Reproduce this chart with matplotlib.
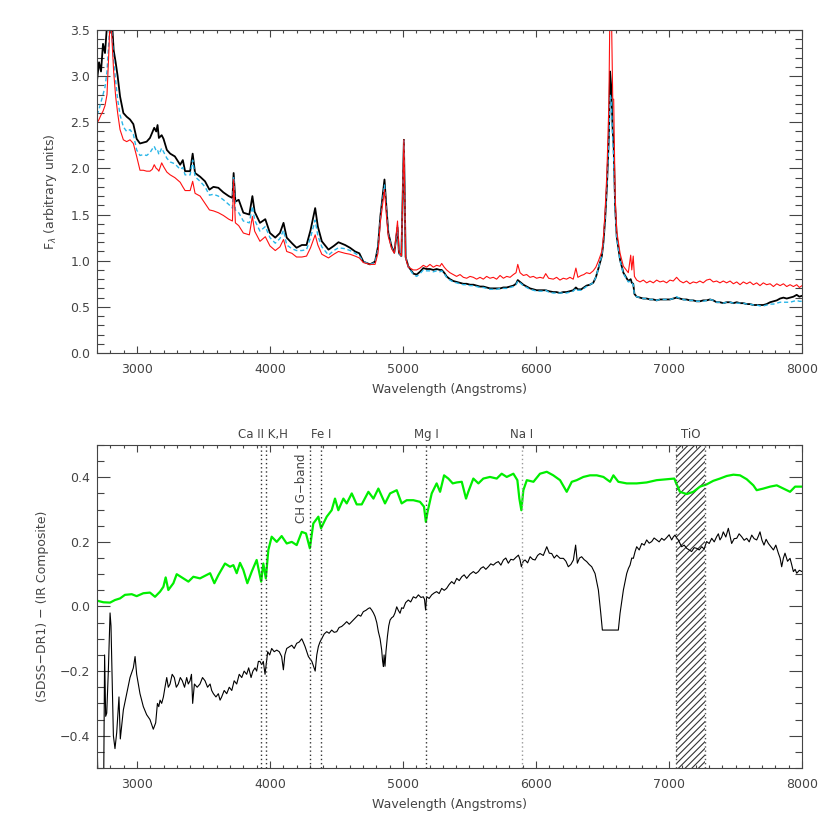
import matplotlib
matplotlib.use('Agg')
import matplotlib.pyplot as plt
from matplotlib.ticker import MultipleLocator, FixedLocator, FuncFormatter
import matplotlib.transforms as mtransforms

# ---- top panel: composite spectra (wavelength in Angstroms, flux arbitrary) ----
wl_top = [2700, 2715, 2730, 2745, 2760, 2775, 2790, 2800, 2812, 2825,
          2840, 2855, 2873, 2898, 2923, 2948, 2973, 2998, 3023, 3048,
          3073, 3098, 3115, 3130, 3145, 3155, 3165, 3186, 3200, 3225,
          3250, 3285, 3325, 3345, 3362, 3400, 3419, 3437, 3475, 3512,
          3545, 3575, 3612, 3650, 3690, 3718, 3727, 3740, 3765, 3800,
          3845, 3868, 3885, 3925, 3965, 4000, 4040, 4075, 4102, 4126,
          4165, 4200, 4240, 4275, 4305, 4340, 4360, 4390, 4440, 4480,
          4515, 4565, 4602, 4640, 4672, 4702, 4752, 4790, 4812, 4830,
          4861, 4875, 4890, 4915, 4935, 4959, 4970, 4988, 5007, 5020,
          5040, 5078, 5103, 5128, 5153, 5178, 5203, 5228, 5253, 5278,
          5291, 5310, 5328, 5353, 5378, 5403, 5429, 5454, 5479, 5504,
          5529, 5554, 5579, 5604, 5629, 5654, 5679, 5704, 5730, 5755,
          5780, 5805, 5830, 5850, 5863, 5880, 5905, 5930, 5955, 5980,
          6005, 6030, 6055, 6073, 6095, 6130, 6155, 6180, 6205, 6230,
          6255, 6280, 6300, 6315, 6340, 6360, 6380, 6405, 6430, 6450,
          6470, 6495, 6507, 6520, 6533, 6548, 6557, 6565, 6577, 6584,
          6595, 6607, 6632, 6657, 6694, 6712, 6720, 6731, 6740, 6757,
          6782, 6807, 6832, 6857, 6882, 6907, 6932, 6957, 6982, 7007,
          7032, 7057, 7082, 7107, 7132, 7157, 7182, 7207, 7232, 7257,
          7282, 7308, 7333, 7358, 7383, 7408, 7433, 7459, 7484, 7509,
          7534, 7559, 7584, 7609, 7634, 7659, 7684, 7709, 7734, 7760,
          7785, 7810, 7835, 7860, 7885, 7910, 7935, 7960, 7980, 8000]

flux_black = [2.95, 3.15, 3.05, 3.35, 3.25, 3.55, 3.70, 3.80, 3.60, 3.28,
              3.15, 3.00, 2.78, 2.60, 2.56, 2.53, 2.48, 2.32, 2.27, 2.28,
              2.29, 2.33, 2.39, 2.44, 2.40, 2.47, 2.33, 2.36, 2.32, 2.20,
              2.16, 2.13, 2.04, 2.09, 1.97, 1.97, 2.16, 1.95, 1.91, 1.86,
              1.77, 1.80, 1.79, 1.74, 1.70, 1.68, 1.95, 1.64, 1.66, 1.52,
              1.50, 1.70, 1.53, 1.41, 1.45, 1.30, 1.25, 1.30, 1.41, 1.25,
              1.19, 1.14, 1.17, 1.17, 1.33, 1.57, 1.37, 1.21, 1.12, 1.16,
              1.20, 1.17, 1.14, 1.10, 1.08, 0.99, 0.96, 0.99, 1.15, 1.48,
              1.88, 1.59, 1.30, 1.15, 1.09, 1.36, 1.08, 1.05, 2.31, 1.04,
              0.94, 0.86, 0.85, 0.88, 0.92, 0.91, 0.91, 0.90, 0.91, 0.90,
              0.90, 0.87, 0.83, 0.80, 0.78, 0.77, 0.76, 0.75, 0.75, 0.74,
              0.74, 0.73, 0.72, 0.72, 0.71, 0.70, 0.70, 0.70, 0.70, 0.71,
              0.71, 0.72, 0.73, 0.75, 0.79, 0.77, 0.74, 0.72, 0.70, 0.69,
              0.68, 0.68, 0.68, 0.68, 0.67, 0.66, 0.66, 0.65, 0.66, 0.66,
              0.67, 0.68, 0.71, 0.69, 0.69, 0.71, 0.73, 0.74, 0.76, 0.82,
              0.92, 1.05, 1.20, 1.45, 1.80, 2.35, 3.05, 2.90, 2.40, 2.25,
              1.59, 1.26, 1.01, 0.87, 0.78, 0.80, 0.76, 0.75, 0.64, 0.61,
              0.60, 0.59, 0.59, 0.58, 0.58, 0.57, 0.58, 0.58, 0.58, 0.58,
              0.59, 0.60, 0.59, 0.58, 0.58, 0.57, 0.57, 0.56, 0.56, 0.57,
              0.57, 0.58, 0.57, 0.55, 0.55, 0.54, 0.55, 0.55, 0.54, 0.55,
              0.54, 0.54, 0.53, 0.53, 0.52, 0.52, 0.52, 0.52, 0.53, 0.55,
              0.56, 0.57, 0.59, 0.60, 0.59, 0.60, 0.61, 0.63, 0.61, 0.62]

flux_cyan = [2.58, 2.64, 2.72, 2.80, 2.88, 3.05, 3.40, 3.70, 3.45, 3.18,
             2.95, 2.75, 2.58, 2.45, 2.40, 2.42, 2.37, 2.20, 2.14, 2.15,
             2.14, 2.17, 2.21, 2.24, 2.19, 2.20, 2.15, 2.22, 2.18, 2.11,
             2.07, 2.05, 1.99, 2.01, 1.93, 1.93, 2.09, 1.91, 1.86, 1.80,
             1.71, 1.72, 1.70, 1.66, 1.61, 1.57, 1.91, 1.55, 1.52, 1.43,
             1.41, 1.59, 1.44, 1.32, 1.37, 1.25, 1.19, 1.24, 1.33, 1.17,
             1.13, 1.11, 1.11, 1.12, 1.25, 1.44, 1.27, 1.15, 1.06, 1.11,
             1.14, 1.13, 1.11, 1.08, 1.05, 0.99, 0.96, 0.98, 1.12, 1.45,
             1.82, 1.55, 1.28, 1.14, 1.08, 1.38, 1.08, 1.05, 2.30, 1.04,
             0.93, 0.85, 0.83, 0.86, 0.90, 0.89, 0.89, 0.88, 0.89, 0.88,
             0.89, 0.86, 0.82, 0.79, 0.77, 0.76, 0.75, 0.74, 0.74, 0.73,
             0.73, 0.72, 0.71, 0.71, 0.70, 0.69, 0.69, 0.69, 0.70, 0.70,
             0.70, 0.71, 0.72, 0.74, 0.78, 0.76, 0.73, 0.71, 0.69, 0.68,
             0.67, 0.67, 0.67, 0.68, 0.66, 0.65, 0.65, 0.65, 0.65, 0.65,
             0.66, 0.67, 0.70, 0.68, 0.68, 0.70, 0.72, 0.74, 0.76, 0.82,
             0.92, 1.06, 1.22, 1.47, 1.82, 2.30, 2.80, 2.75, 2.30, 2.10,
             1.55, 1.24, 1.00, 0.86, 0.77, 0.78, 0.76, 0.74, 0.63, 0.61,
             0.60, 0.59, 0.59, 0.58, 0.58, 0.57, 0.58, 0.58, 0.58, 0.58,
             0.59, 0.61, 0.59, 0.58, 0.57, 0.57, 0.57, 0.56, 0.56, 0.56,
             0.57, 0.58, 0.57, 0.55, 0.55, 0.54, 0.55, 0.55, 0.54, 0.54,
             0.54, 0.54, 0.53, 0.53, 0.52, 0.52, 0.51, 0.51, 0.52, 0.53,
             0.53, 0.54, 0.55, 0.55, 0.55, 0.55, 0.56, 0.57, 0.56, 0.56]

flux_red = [2.49, 2.53, 2.58, 2.62, 2.68, 2.80, 3.30, 3.75, 3.40, 3.05,
            2.78, 2.60, 2.42, 2.31, 2.29, 2.31, 2.27, 2.13, 1.98, 1.98,
            1.97, 1.97, 1.99, 2.04, 2.00, 1.99, 1.97, 2.06, 2.02, 1.96,
            1.93, 1.90, 1.85, 1.80, 1.76, 1.76, 1.86, 1.73, 1.70, 1.62,
            1.55, 1.54, 1.52, 1.49, 1.45, 1.43, 1.88, 1.41, 1.38, 1.30,
            1.28, 1.48, 1.32, 1.21, 1.26, 1.16, 1.11, 1.15, 1.23, 1.10,
            1.08, 1.04, 1.04, 1.05, 1.14, 1.28, 1.17, 1.07, 1.03, 1.07,
            1.10, 1.08, 1.07, 1.05, 1.03, 0.98, 0.96, 0.96, 1.08, 1.42,
            1.77, 1.50, 1.26, 1.13, 1.08, 1.43, 1.09, 1.05, 2.31, 1.03,
            0.93, 0.90, 0.90, 0.92, 0.95, 0.93, 0.96, 0.93, 0.95, 0.94,
            0.97, 0.93, 0.90, 0.87, 0.85, 0.83, 0.85, 0.82, 0.81, 0.83,
            0.82, 0.80, 0.82, 0.80, 0.83, 0.81, 0.82, 0.80, 0.84, 0.81,
            0.83, 0.82, 0.85, 0.87, 0.96, 0.87, 0.84, 0.85, 0.82, 0.83,
            0.81, 0.82, 0.81, 0.86, 0.81, 0.80, 0.82, 0.79, 0.81, 0.80,
            0.82, 0.80, 0.92, 0.82, 0.84, 0.85, 0.87, 0.86, 0.89, 0.93,
            1.00, 1.10, 1.25, 1.55, 1.95, 2.70, 3.90, 3.90, 2.75, 2.75,
            1.70, 1.32, 1.08, 0.94, 0.87, 1.06, 0.90, 1.05, 0.83, 0.79,
            0.77, 0.79, 0.76, 0.78, 0.76, 0.79, 0.77, 0.78, 0.76, 0.79,
            0.78, 0.82, 0.78, 0.76, 0.78, 0.75, 0.77, 0.76, 0.78, 0.76,
            0.79, 0.80, 0.77, 0.78, 0.76, 0.78, 0.76, 0.78, 0.75, 0.77,
            0.74, 0.77, 0.75, 0.77, 0.74, 0.76, 0.73, 0.76, 0.74, 0.75,
            0.72, 0.75, 0.73, 0.75, 0.72, 0.74, 0.72, 0.74, 0.71, 0.73]

# ---- bottom panel: difference spectra ----
wl_green = [2700, 2748, 2798, 2835, 2873, 2910, 2961, 2998, 3048, 3098, 3136, 3174, 3199, 3216,
            3236, 3274, 3299, 3349, 3387, 3424, 3474, 3550, 3582, 3612, 3662, 3700, 3725, 3750,
            3775, 3800, 3830, 3863, 3900, 3934, 3950, 3969, 3988, 4013, 4051, 4088, 4126, 4164,
            4201, 4239, 4271, 4300, 4326, 4364, 4384, 4427, 4464, 4489, 4514, 4552, 4577, 4615,
            4652, 4690, 4740, 4778, 4815, 4865, 4903, 4953, 4990, 5028, 5078, 5128, 5158, 5172,
            5185, 5216, 5253, 5279, 5309, 5341, 5374, 5404, 5442, 5474, 5491, 5529, 5567, 5604,
            5654, 5705, 5742, 5780, 5830, 5860, 5875, 5890, 5905, 5931, 5981, 6030, 6081, 6130,
            6181, 6231, 6269, 6306, 6356, 6406, 6457, 6507, 6557, 6582, 6619, 6682, 6757, 6832,
            6907, 6982, 7040, 7050, 7082, 7133, 7183, 7233, 7283, 7333, 7383, 7434, 7484, 7534,
            7584, 7634, 7659, 7709, 7760, 7810, 7860, 7910, 7948, 8000]
diff_green = [0.018, 0.013, 0.012, 0.020, 0.025, 0.036, 0.038, 0.032, 0.041, 0.043, 0.030, 0.046,
              0.061, 0.090, 0.051, 0.072, 0.100, 0.087, 0.077, 0.092, 0.087, 0.103, 0.072, 0.097,
              0.133, 0.123, 0.128, 0.103, 0.135, 0.113, 0.072, 0.108, 0.144, 0.077, 0.133, 0.087,
              0.175, 0.216, 0.200, 0.218, 0.195, 0.200, 0.190, 0.231, 0.226, 0.180, 0.257, 0.278,
              0.242, 0.278, 0.298, 0.334, 0.298, 0.334, 0.319, 0.350, 0.316, 0.316, 0.355, 0.334,
              0.365, 0.319, 0.350, 0.360, 0.319, 0.329, 0.329, 0.324, 0.309, 0.262, 0.293, 0.350,
              0.381, 0.355, 0.406, 0.396, 0.381, 0.384, 0.386, 0.334, 0.355, 0.396, 0.381, 0.396,
              0.401, 0.396, 0.411, 0.401, 0.411, 0.391, 0.334, 0.298, 0.360, 0.391, 0.386, 0.411,
              0.417, 0.406, 0.391, 0.355, 0.386, 0.391, 0.401, 0.406, 0.406, 0.401, 0.386, 0.406,
              0.386, 0.381, 0.381, 0.384, 0.391, 0.394, 0.396, 0.385, 0.355, 0.348, 0.355, 0.371,
              0.378, 0.389, 0.396, 0.404, 0.408, 0.406, 0.394, 0.375, 0.360, 0.365, 0.371, 0.375,
              0.365, 0.355, 0.371, 0.371]

wl_black = [2703, 2707, 2750, 2757, 2765, 2773, 2785, 2798, 2805, 2823,
            2835, 2848, 2865, 2875, 2898, 2923, 2948, 2973, 2986, 2998,
            3023, 3048, 3073, 3098, 3123, 3141, 3154, 3164, 3174, 3186,
            3199, 3211, 3224, 3236, 3249, 3265, 3281, 3296, 3311, 3326,
            3341, 3358, 3374, 3386, 3399, 3410, 3419, 3432, 3453, 3474,
            3493, 3512, 3531, 3550, 3562, 3575, 3594, 3612, 3625, 3637,
            3656, 3675, 3694, 3713, 3731, 3750, 3769, 3788, 3806, 3825,
            3840, 3858, 3872, 3888, 3900, 3913, 3925, 3938, 3950, 3963,
            3983, 3998, 4013, 4032, 4051, 4070, 4088, 4101, 4112, 4126,
            4145, 4164, 4182, 4201, 4220, 4239, 4250, 4264, 4289, 4315,
            4340, 4352, 4364, 4376, 4389, 4408, 4427, 4445, 4464, 4483,
            4502, 4520, 4539, 4558, 4577, 4596, 4615, 4640, 4664, 4683,
            4702, 4721, 4740, 4752, 4765, 4778, 4790, 4803, 4815, 4828,
            4840, 4847, 4853, 4858, 4865, 4872, 4883, 4893, 4903, 4915,
            4928, 4940, 4953, 4965, 4978, 4990, 5003, 5020, 5040, 5058,
            5078, 5097, 5116, 5135, 5153, 5162, 5170, 5178, 5197, 5216,
            5235, 5253, 5272, 5291, 5310, 5328, 5347, 5366, 5385, 5404,
            5423, 5442, 5460, 5479, 5504, 5529, 5548, 5567, 5585, 5604,
            5623, 5642, 5660, 5679, 5698, 5717, 5736, 5755, 5773, 5792,
            5811, 5830, 5849, 5868, 5880, 5890, 5904, 5918, 5937, 5956,
            5975, 5993, 6012, 6030, 6055, 6081, 6100, 6118, 6137, 6156,
            6181, 6206, 6225, 6243, 6262, 6281, 6298, 6311, 6327, 6343,
            6362, 6381, 6400, 6419, 6444, 6469, 6487, 6499, 6619, 6632,
            6657, 6682, 6695, 6707, 6720, 6732, 6745, 6757, 6776, 6795,
            6814, 6832, 6851, 6870, 6888, 6907, 6926, 6945, 6963, 6982,
            7001, 7020, 7032, 7045, 7058, 7070, 7083, 7095, 7114, 7133,
            7151, 7170, 7189, 7208, 7227, 7246, 7264, 7283, 7302, 7321,
            7340, 7358, 7371, 7383, 7396, 7408, 7427, 7446, 7458, 7471,
            7490, 7509, 7527, 7546, 7565, 7584, 7603, 7622, 7640, 7659,
            7672, 7684, 7699, 7714, 7730, 7747, 7766, 7785, 7803, 7822,
            7835, 7847, 7860, 7872, 7891, 7910, 7922, 7935, 7948, 7960,
            7980, 8000]
diff_black = [-0.46, -0.55, -0.55, -0.15, -0.34, -0.33, -0.20, -0.02, -0.06, -0.40,
              -0.44, -0.39, -0.28, -0.41, -0.32, -0.27, -0.22, -0.19, -0.155, -0.21,
              -0.27, -0.31, -0.335, -0.35, -0.38, -0.36, -0.30, -0.31, -0.29, -0.30,
              -0.28, -0.25, -0.22, -0.25, -0.24, -0.21, -0.22, -0.25, -0.24, -0.22,
              -0.23, -0.25, -0.22, -0.24, -0.23, -0.21, -0.30, -0.24, -0.25, -0.24,
              -0.22, -0.23, -0.25, -0.24, -0.26, -0.27, -0.28, -0.27, -0.29, -0.28,
              -0.26, -0.27, -0.25, -0.26, -0.23, -0.24, -0.21, -0.22, -0.20, -0.21,
              -0.19, -0.22, -0.20, -0.19, -0.20, -0.17, -0.17, -0.18, -0.17, -0.21,
              -0.14, -0.15, -0.13, -0.14, -0.135, -0.14, -0.155, -0.196, -0.15, -0.13,
              -0.125, -0.12, -0.13, -0.114, -0.11, -0.10, -0.11, -0.124, -0.155, -0.17,
              -0.20, -0.15, -0.124, -0.11, -0.10, -0.085, -0.078, -0.083, -0.073, -0.08,
              -0.078, -0.065, -0.062, -0.055, -0.047, -0.055, -0.047, -0.036, -0.026, -0.03,
              -0.016, -0.012, -0.006, -0.004, -0.011, -0.02, -0.031, -0.05, -0.078, -0.10,
              -0.135, -0.17, -0.186, -0.15, -0.185, -0.14, -0.093, -0.06, -0.042, -0.035,
              -0.031, -0.02, -0.001, -0.012, -0.021, -0.004, -0.006, 0.012, 0.020, 0.014,
              0.030, 0.026, 0.036, 0.028, 0.030, 0.022, -0.011, 0.030, 0.025, 0.036,
              0.042, 0.046, 0.040, 0.056, 0.050, 0.056, 0.068, 0.077, 0.070, 0.087,
              0.080, 0.092, 0.098, 0.087, 0.100, 0.108, 0.102, 0.108, 0.118, 0.123,
              0.115, 0.123, 0.132, 0.128, 0.135, 0.139, 0.128, 0.144, 0.150, 0.134,
              0.146, 0.144, 0.152, 0.159, 0.145, 0.123, 0.140, 0.144, 0.135, 0.154,
              0.146, 0.144, 0.158, 0.164, 0.158, 0.185, 0.165, 0.164, 0.150, 0.159,
              0.149, 0.149, 0.140, 0.123, 0.130, 0.144, 0.190, 0.134, 0.150, 0.154,
              0.145, 0.139, 0.130, 0.123, 0.102, 0.051, -0.021, -0.073, -0.073, -0.021,
              0.051, 0.102, 0.118, 0.128, 0.150, 0.149, 0.170, 0.185, 0.175, 0.195,
              0.190, 0.206, 0.196, 0.201, 0.212, 0.206, 0.200, 0.211, 0.205, 0.213,
              0.222, 0.206, 0.215, 0.221, 0.212, 0.206, 0.195, 0.185, 0.190, 0.180,
              0.175, 0.170, 0.182, 0.180, 0.175, 0.185, 0.178, 0.201, 0.195, 0.211,
              0.200, 0.216, 0.225, 0.206, 0.215, 0.231, 0.215, 0.242, 0.220, 0.195,
              0.210, 0.211, 0.225, 0.216, 0.205, 0.211, 0.200, 0.221, 0.210, 0.206,
              0.218, 0.231, 0.205, 0.190, 0.208, 0.195, 0.185, 0.175, 0.190, 0.165,
              0.150, 0.123, 0.150, 0.165, 0.140, 0.149, 0.130, 0.108, 0.115, 0.103,
              0.112, 0.108]

# absorption features marked in the lower panel
feat_wl = [3934, 3969, 4300, 4383, 5175, 5893]
feat_col = ['#333333', '#333333', '#333333', '#333333', '#333333', '#999999']
label_txt = ['Ca II K,H', 'Fe I', 'Mg I', 'Na I', 'TiO']
label_wl = [3945, 4383, 5175, 5893, 7160]
tio_band = [7050, 7270]

gray = '#444444'
plt.rcParams['font.family'] = ['DejaVu Sans']
plt.rcParams['font.size'] = 9
plt.rcParams['text.color'] = gray
plt.rcParams['axes.labelcolor'] = gray
plt.rcParams['hatch.linewidth'] = 0.8

fig = plt.figure(figsize=(8.3, 8.3), dpi=100)
ax1 = fig.add_axes([0.1169, 0.5747, 0.8494, 0.3892])
ax2 = fig.add_axes([0.1169, 0.0747, 0.8494, 0.3892])

ax1.plot(wl_top, flux_black, color='black', lw=1.3)
ax1.plot(wl_top, flux_cyan, color='#29b6e8', lw=1.0, dashes=(3, 2))
ax1.plot(wl_top, flux_red, color='#ff1010', lw=0.8)
ax1.set_xlim(2700, 8000)
ax1.set_ylim(0, 3.5)
ax1.yaxis.set_major_locator(MultipleLocator(0.5))
ax1.yaxis.set_minor_locator(MultipleLocator(0.1))
ax1.yaxis.set_major_formatter(FuncFormatter(lambda v, p: f'{v:.1f}'))
ax1.set_ylabel(r'F$_\lambda$ (arbitrary units)', labelpad=8)

ax2.plot(wl_green, diff_green, color='#00ee00', lw=1.6)
ax2.plot(wl_black, diff_black, color='black', lw=0.8)
ax2.set_xlim(2700, 8000)
ax2.set_ylim(-0.5, 0.5)
ax2.yaxis.set_major_locator(FixedLocator([-0.4, -0.2, 0.0, 0.2, 0.4]))
ax2.yaxis.set_minor_locator(MultipleLocator(0.05))
ax2.yaxis.set_major_formatter(FuncFormatter(lambda v, p: f'{v:.1f}'.replace('-', '\u2212')))
ax2.set_ylabel('(SDSS\u2212DR1) \u2212 (IR Composite)', labelpad=8)

for w, c in zip(feat_wl, feat_col):
    ax2.axvline(w, color=c, lw=1.0, linestyle=(0, (1, 2)))

ax2.axvspan(tio_band[0], tio_band[1], facecolor='none', edgecolor='#333333', lw=0,
            hatch='/////')
for w in tio_band:
    ax2.axvline(w, color='#555555', lw=1.0, linestyle=(0, (1, 2)))

trans = mtransforms.blended_transform_factory(ax2.transData, ax2.transAxes)
for t, w in zip(label_txt, label_wl):
    ax2.text(w, 1.012, t, transform=trans, ha='center', va='bottom', fontsize=8.5, color=gray)
ax2.text(4300 - 15, 0.975, 'CH G\u2212band', transform=trans, rotation=90,
         ha='right', va='top', fontsize=8.5, color=gray)

for ax in (ax1, ax2):
    ax.xaxis.set_major_locator(MultipleLocator(1000))
    ax.xaxis.set_minor_locator(MultipleLocator(100))
    ax.set_xlabel('Wavelength (Angstroms)', labelpad=5)
    ax.tick_params(which='both', direction='in', top=True, right=True, color=gray,
                   labelcolor=gray, width=0.8)
    ax.tick_params(axis='x', which='major', length=5, pad=7)
    ax.tick_params(axis='x', which='minor', length=2.5)
    ax.tick_params(axis='y', which='major', length=9.5, pad=5)
    ax.tick_params(axis='y', which='minor', length=5)
    for s in ax.spines.values():
        s.set_color(gray)
        s.set_linewidth(0.8)

fig.savefig('out.png', dpi=100)
